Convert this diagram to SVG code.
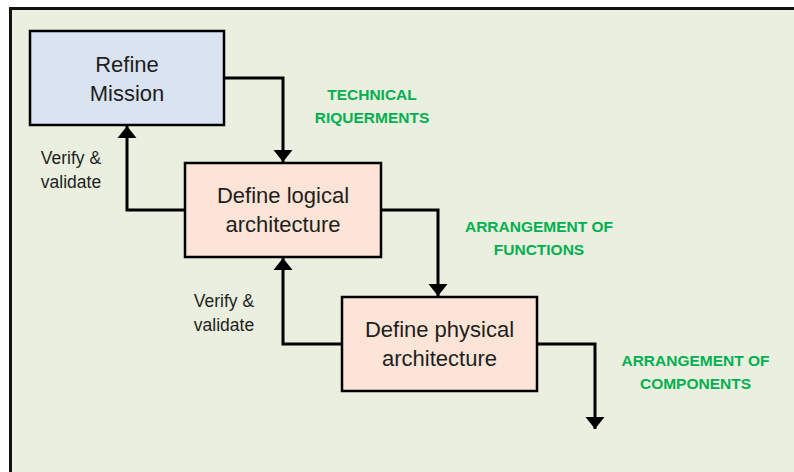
<svg xmlns="http://www.w3.org/2000/svg" width="794" height="472" viewBox="0 0 794 472">
  <defs>
    <marker id="arrow" markerUnits="userSpaceOnUse" markerWidth="13" markerHeight="20" viewBox="0 0 13 20" refX="12" refY="10" orient="auto">
      <path d="M0,0.5 L12,10 L0,19.5 z" fill="#000"/>
    </marker>
    <style>
      .frame { fill: #ebefdf; stroke: #111; stroke-width: 3; }
      .box { stroke: #000; stroke-width: 2.5; }
      .mission { fill: #dae3f1; }
      .stage { fill: #fce4d6; }
      .label { font-family: "Liberation Sans", Arial, sans-serif; font-size: 22px; fill: #1e1e1e; text-anchor: middle; }
      .note { font-family: "Liberation Sans", Arial, sans-serif; font-size: 17.5px; fill: #1e1e1e; text-anchor: middle; }
      .out { font-family: "Liberation Sans", Arial, sans-serif; font-size: 15.5px; font-weight: bold; fill: #00b050; text-anchor: middle; }
      .flow { fill: none; stroke: #000; stroke-width: 3; stroke-linejoin: miter; marker-end: url(#arrow); }
    </style>
  </defs>

  <rect x="0" y="0" width="794" height="472" fill="#ffffff"/>
  <rect class="frame" x="10.5" y="8.5" width="800" height="480"/>

  <g id="connectors">
    <path class="flow" d="M224,78 H283 V162"/>
    <path class="flow" d="M185,210 H127 V126"/>
    <path class="flow" d="M381,210 H438 V296"/>
    <path class="flow" d="M342,344 H283 V258"/>
    <path class="flow" d="M537,344 H595 V429"/>
  </g>

  <g id="refine-mission">
    <rect class="box mission" x="30" y="31" width="194" height="94"/>
    <text class="label" x="127" y="72">Refine</text>
    <text class="label" x="127" y="101">Mission</text>
  </g>

  <g id="logical-architecture">
    <rect class="box stage" x="185" y="163" width="196" height="94"/>
    <text class="label" x="283" y="203">Define logical</text>
    <text class="label" x="283" y="232">architecture</text>
  </g>

  <g id="physical-architecture">
    <rect class="box stage" x="342" y="297" width="195" height="94"/>
    <text class="label" x="439.5" y="337">Define physical</text>
    <text class="label" x="439.5" y="366">architecture</text>
  </g>

  <g id="verify-1">
    <text class="note" x="71" y="164">Verify &amp;</text>
    <text class="note" x="71" y="188">validate</text>
  </g>

  <g id="verify-2">
    <text class="note" x="224" y="307">Verify &amp;</text>
    <text class="note" x="224" y="331">validate</text>
  </g>

  <g id="technical-requirements">
    <text class="out" x="372" y="100">TECHNICAL</text>
    <text class="out" x="372" y="123">RIQUERMENTS</text>
  </g>

  <g id="arrangement-functions">
    <text class="out" x="539" y="232">ARRANGEMENT OF</text>
    <text class="out" x="539" y="255">FUNCTIONS</text>
  </g>

  <g id="arrangement-components">
    <text class="out" x="695.5" y="366">ARRANGEMENT OF</text>
    <text class="out" x="695.5" y="389">COMPONENTS</text>
  </g>
</svg>
